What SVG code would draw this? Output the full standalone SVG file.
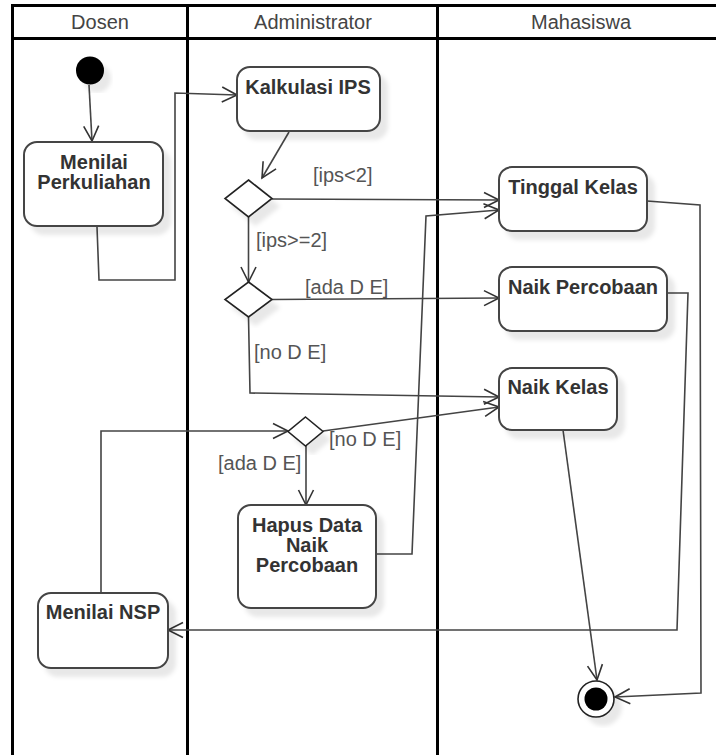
<svg xmlns="http://www.w3.org/2000/svg" width="716" height="755" viewBox="0 0 716 755">
  <style>
    .lane { fill: none; stroke: #000; stroke-width: 3; }
    .hdr { font-family: "Liberation Sans", Arial, sans-serif; font-size: 20px; fill: #444; text-anchor: middle; }
    .box { fill: #fff; stroke: #444; stroke-width: 2; }
    .name { font-family: "Liberation Sans", Arial, sans-serif; font-size: 20px; font-weight: bold; fill: #333; text-anchor: middle; }
    .dec { fill: #fff; stroke: #222; stroke-width: 1.6; }
    .edge { fill: none; stroke: #444; stroke-width: 1.6; }
    .guard { font-family: "Liberation Sans", Arial, sans-serif; font-size: 20px; fill: #555; }
  </style>
  <defs>
    <marker id="open" markerUnits="userSpaceOnUse" markerWidth="18" markerHeight="18" viewBox="0 0 18 18" refX="16" refY="9" orient="auto">
      <path d="M1,1.5 L16,9 L1,16.5" fill="none" stroke="#333" stroke-width="1.6"/>
    </marker>
    <filter id="shadow" x="-20%" y="-20%" width="150%" height="150%">
      <feDropShadow dx="7" dy="8" stdDeviation="2" flood-color="#000" flood-opacity="0.09"/>
    </filter>
  </defs>

  <rect width="716" height="755" fill="#fff"/>

  <!-- swimlanes -->
  <g id="lanes">
    <path class="lane" d="M12.5,755 V5.5 H720 M12.5,38.5 H720 M187.5,5.5 V755 M437.5,5.5 V755"/>
    <text class="hdr" x="100" y="29">Dosen</text>
    <text class="hdr" x="313" y="29">Administrator</text>
    <text class="hdr" x="581" y="29">Mahasiswa</text>
  </g>

  <!-- connectors -->
  <g id="connectors">
    <path class="edge" d="M89,85 L92,141" marker-end="url(#open)"/>
    <path class="edge" d="M97,227 L99,280 H175 V93 L237,95" marker-end="url(#open)"/>
    <path class="edge" d="M289,132 L262,178" marker-end="url(#open)"/>
    <path class="edge" d="M272,199 L499,200" marker-end="url(#open)"/>
    <path class="edge" d="M248.5,217 V282" marker-end="url(#open)"/>
    <path class="edge" d="M272,299.5 L499,298" marker-end="url(#open)"/>
    <path class="edge" d="M248.5,317 L250,393 L499,397" marker-end="url(#open)"/>
    <path class="edge" d="M101,592 V431 H288" marker-end="url(#open)"/>
    <path class="edge" d="M323,431 L499,407" marker-end="url(#open)"/>
    <path class="edge" d="M306,446 V505" marker-end="url(#open)"/>
    <path class="edge" d="M376,554 H412 L426,216 L499,210" marker-end="url(#open)"/>
    <path class="edge" d="M647,201 L700,205 L701,693 L615,697" marker-end="url(#open)"/>
    <path class="edge" d="M667,293 L688,293 L677,630 H168" marker-end="url(#open)"/>
    <path class="edge" d="M563,430 L597,680" marker-end="url(#open)"/>
  </g>

  <!-- guards -->
  <g id="guards">
    <text class="guard" x="313" y="182">[ips&lt;2]</text>
    <text class="guard" x="256" y="247">[ips&gt;=2]</text>
    <text class="guard" x="305" y="294">[ada D E]</text>
    <text class="guard" x="254" y="359">[no D E]</text>
    <text class="guard" x="329" y="446">[no D E]</text>
    <text class="guard" x="218" y="470">[ada D E]</text>
  </g>

  <!-- nodes -->
  <g id="start">
    <circle cx="90" cy="70.5" r="14" fill="#000" filter="url(#shadow)"/>
  </g>

  <g id="menilai-perkuliahan">
    <rect class="box" x="24" y="142" width="139" height="84" rx="13" filter="url(#shadow)"/>
    <text class="name" x="94" y="169">Menilai</text>
    <text class="name" x="94" y="189">Perkuliahan</text>
  </g>

  <g id="kalkulasi-ips">
    <rect class="box" x="237" y="67" width="143" height="64" rx="13" filter="url(#shadow)"/>
    <text class="name" x="308" y="94">Kalkulasi IPS</text>
  </g>

  <g id="decision-ips">
    <polygon class="dec" points="248.5,180 272,198.5 248.5,217 225,198.5" filter="url(#shadow)"/>
  </g>

  <g id="decision-de">
    <polygon class="dec" points="248.5,282 272,299.5 248.5,317 225,299.5" filter="url(#shadow)"/>
  </g>

  <g id="tinggal-kelas">
    <rect class="box" x="499" y="167" width="148" height="64" rx="13" filter="url(#shadow)"/>
    <text class="name" x="573" y="194">Tinggal Kelas</text>
  </g>

  <g id="naik-percobaan">
    <rect class="box" x="499" y="267" width="168" height="64" rx="13" filter="url(#shadow)"/>
    <text class="name" x="583" y="294">Naik Percobaan</text>
  </g>

  <g id="naik-kelas">
    <rect class="box" x="499" y="368" width="118" height="62" rx="13" filter="url(#shadow)"/>
    <text class="name" x="558" y="394">Naik Kelas</text>
  </g>

  <g id="decision-nsp">
    <polygon class="dec" points="305.5,417 323,431.5 305.5,446 288,431.5" filter="url(#shadow)"/>
  </g>

  <g id="hapus-data">
    <rect class="box" x="238" y="505" width="138" height="103" rx="13" filter="url(#shadow)"/>
    <text class="name" x="307" y="532">Hapus Data</text>
    <text class="name" x="307" y="552">Naik</text>
    <text class="name" x="307" y="572">Percobaan</text>
  </g>

  <g id="menilai-nsp">
    <rect class="box" x="38" y="593" width="130" height="75" rx="13" filter="url(#shadow)"/>
    <text class="name" x="103" y="619">Menilai NSP</text>
  </g>

  <g id="end">
    <circle cx="596" cy="699" r="18" fill="#fff" stroke="#222" stroke-width="1.6" filter="url(#shadow)"/>
    <circle cx="596" cy="699" r="11.5" fill="#000"/>
  </g>
</svg>
